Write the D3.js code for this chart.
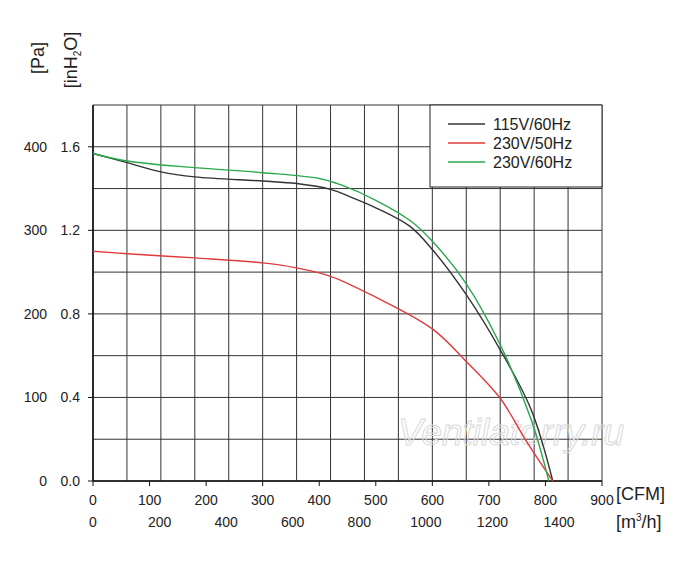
<!DOCTYPE html>
<html><head><meta charset="utf-8">
<script src="https://cdn.jsdelivr.net/npm/d3@7"></script>
<style>body{margin:0;background:#fff}text{font-family:Arial,"Liberation Sans",sans-serif;fill:#222}</style>
</head><body>
<svg id="chart" width="700" height="569"></svg>
<script>
// airflow in CFM, pressure in Pa
var series = ["115V/60Hz", "230V/50Hz", "230V/60Hz"];
var colors = ["#333333", "#e03a3a", "#2aa84a"];
var black = [[0,392],[60,381],[120,370],[180,364],[300,359],[360,356],[420,349],[455,340],[500,327],[560,305],[600,277],[660,223],[720,157],[775,85],[813,0]];
var red = [[0,275],[60,272],[180,267],[300,261],[360,255],[420,245],[500,220],[600,182],[660,143],[720,99],[765,49],[813,0]];
var green = [[0,392],[60,383],[180,375],[300,369],[400,362],[440,354],[500,336],[560,312],[600,287],[660,236],[720,163],[775,73],[806,0]];
var curves = [black, red, green];
var cfmTicks = [0,100,200,300,400,500,600,700,800,900];
var m3hTicks = [0,200,400,600,800,1000,1200,1400];
var paTicks = [0,100,200,300,400];
var inTicks = ["0.0","0.4","0.8","1.2","1.6"];

var svg = d3.select("#chart");
var x = d3.scaleLinear().domain([0,900]).range([93,602]);
var xm = d3.scaleLinear().domain([0,900*1.699]).range([93,602]);
var y = d3.scaleLinear().domain([0,450]).range([481,105]);

// grid
var g = svg.append("g");
d3.range(0,901,60).forEach(function(v){
  g.append("line").attr("x1",x(v)).attr("x2",x(v)).attr("y1",y(0)).attr("y2",y(450))
   .attr("stroke","#333").attr("stroke-width",1);
});
d3.range(0,451,50).forEach(function(v){
  g.append("line").attr("x1",x(0)).attr("x2",x(900)).attr("y1",y(v)).attr("y2",y(v))
   .attr("stroke","#333").attr("stroke-width",1);
});
g.append("line").attr("x1",x(0)).attr("x2",x(900)).attr("y1",y(0)).attr("y2",y(0)).attr("stroke","#111").attr("stroke-width",1.6);
g.append("line").attr("x1",x(0)).attr("x2",x(0)).attr("y1",y(0)).attr("y2",y(450)).attr("stroke","#111").attr("stroke-width",1.6);

// tick labels
cfmTicks.forEach(function(v){
  svg.append("text").attr("x",x(v)).attr("y",505).attr("text-anchor","middle").attr("font-size",14).text(v);
  g.append("line").attr("x1",x(v)).attr("x2",x(v)).attr("y1",y(0)).attr("y2",y(0)+5).attr("stroke","#111");
});
m3hTicks.forEach(function(v){
  svg.append("text").attr("x",xm(v)).attr("y",527).attr("text-anchor","middle").attr("font-size",14).text(v);
});
paTicks.forEach(function(v,i){
  svg.append("text").attr("x",47).attr("y",y(v)+5).attr("text-anchor","end").attr("font-size",14).text(v);
  svg.append("text").attr("x",80).attr("y",y(v)+5).attr("text-anchor","end").attr("font-size",14).text(inTicks[i]);
  g.append("line").attr("x1",x(0)-5).attr("x2",x(0)).attr("y1",y(v)).attr("y2",y(v)).attr("stroke","#111");
});

// axis titles
svg.append("text").attr("transform","translate(44,58) rotate(-90)").attr("text-anchor","middle").attr("font-size",18).text("[Pa]");
var t = svg.append("text").attr("transform","translate(77,60) rotate(-90)").attr("text-anchor","middle").attr("font-size",18);
t.append("tspan").text("[inH");
t.append("tspan").attr("font-size",10).attr("dy",4).text("2");
t.append("tspan").attr("dy",-4).text("O]");
svg.append("text").attr("x",616).attr("y",500).attr("font-size",18).text("[CFM]");
var t2 = svg.append("text").attr("x",616).attr("y",528).attr("font-size",18);
t2.append("tspan").text("[m");
t2.append("tspan").attr("font-size",10).attr("dy",-7).text("3");
t2.append("tspan").attr("dy",7).text("/h]");

// watermark
svg.append("text").attr("x",398).attr("y",445).attr("font-size",37).attr("font-style","italic")
  .style("fill","none").attr("stroke","#d8d8d8").attr("stroke-width",1).text("Ventilatorry.ru");

// curves
var line = d3.line().x(function(d){return x(d[0]);}).y(function(d){return y(d[1]);}).curve(d3.curveCatmullRom.alpha(0.5));
curves.forEach(function(c,i){
  svg.append("path").datum(c).attr("d",line).attr("fill","none").attr("stroke",colors[i]).attr("stroke-width",1.4);
});

// legend
svg.append("rect").attr("x",430).attr("y",105).attr("width",172).attr("height",82).attr("fill","#fff").attr("stroke","#222");
series.forEach(function(s,i){
  var yy = 124 + i*19;
  svg.append("line").attr("x1",448).attr("x2",485).attr("y1",yy).attr("y2",yy).attr("stroke",colors[i]).attr("stroke-width",1.4);
  svg.append("text").attr("x",493).attr("y",yy+6).attr("font-size",16).text(s);
});
</script>
</body></html>
